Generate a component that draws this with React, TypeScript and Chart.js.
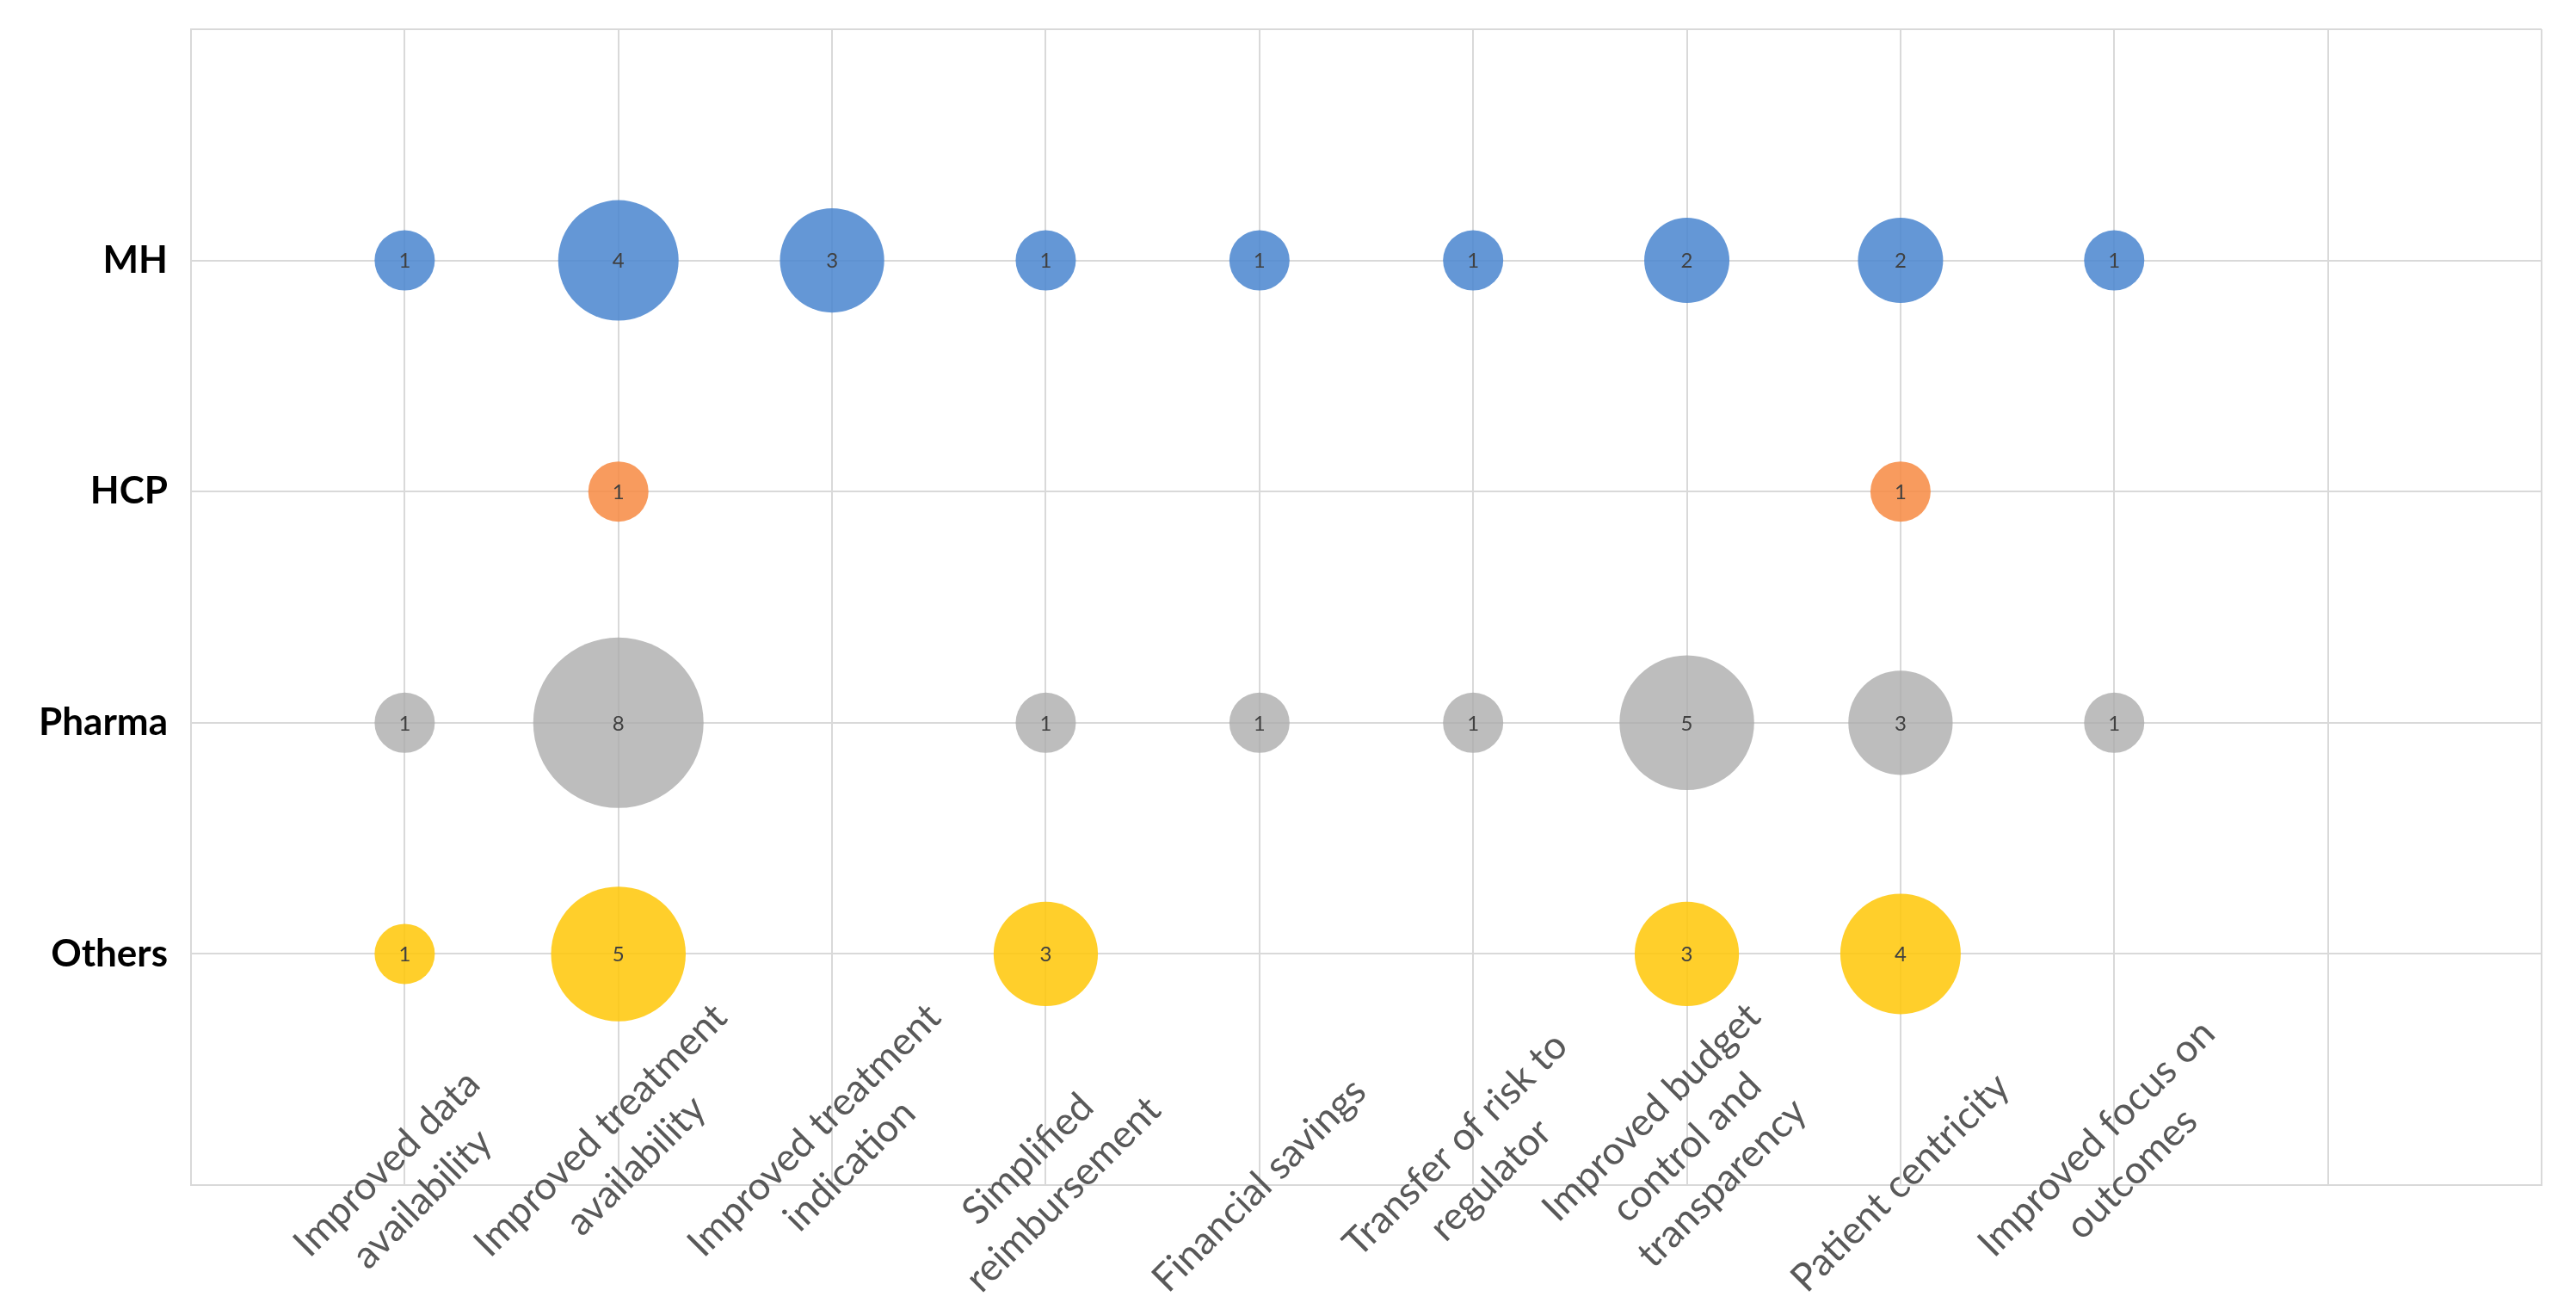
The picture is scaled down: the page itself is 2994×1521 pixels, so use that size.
import React, { useEffect, useRef } from "react";
import { Chart, registerables } from "chart.js";

Chart.register(...registerables);

// ---- data ----
const categories: string[][] = [
  ["Improved data", "availability"],
  ["Improved treatment", "availability"],
  ["Improved treatment", "indication"],
  ["Simplified", "reimbursement"],
  ["Financial savings"],
  ["Transfer of risk to", "regulator"],
  ["Improved budget", "control and", "transparency"],
  ["Patient centricity"],
  ["Improved focus on", "outcomes"],
];
const groupLabels = ["", "Others", "Pharma", "HCP", "MH", ""]; // y tick labels 0..5
const mhCounts = [1, 4, 3, 1, 1, 1, 2, 2, 1];
const hcpCounts = [null, 1, null, null, null, null, null, 1, null];
const pharmaCounts = [1, 8, null, 1, 1, 1, 5, 3, 1];
const othersCounts = [1, 5, null, 3, null, null, 3, 4, null];

const series = [
  { name: "MH", y: 4, counts: mhCounts, color: "rgba(74,134,207,0.86)" },
  { name: "HCP", y: 3, counts: hcpCounts, color: "rgba(247,138,68,0.86)" },
  { name: "Pharma", y: 2, counts: pharmaCounts, color: "rgba(170,170,170,0.78)" },
  { name: "Others", y: 1, counts: othersCounts, color: "rgba(255,199,8,0.86)" },
];

const BUBBLE_SCALE = 35;

function toPoints(counts: (number | null)[], y: number) {
  const pts: { x: number; y: number; r: number; v: number }[] = [];
  counts.forEach((c, i) => {
    if (c != null) pts.push({ x: i + 1, y, r: BUBBLE_SCALE * Math.sqrt(c), v: c });
  });
  return pts;
}

const bubbleLabelPlugin = {
  id: "bubbleLabels",
  afterDatasetsDraw(chart: any) {
    const ctx = chart.ctx;
    ctx.save();
    ctx.font = "24px Lato";
    ctx.fillStyle = "#404040";
    ctx.textAlign = "center";
    ctx.textBaseline = "middle";
    chart.data.datasets.forEach((ds: any, di: number) => {
      const meta = chart.getDatasetMeta(di);
      meta.data.forEach((el: any, j: number) => {
        ctx.fillText(String(ds.data[j].v), el.x, el.y + 1);
      });
    });
    ctx.restore();
  },
};

// Rotated (-45°) category labels: each label's bounding box is centred on its tick
// and bottom-aligned a fixed distance below the axis line.
const xLabelPlugin = {
  id: "xCategoryLabels",
  afterDraw(chart: any) {
    const ctx = chart.ctx;
    const xs = chart.scales.x;
    const yBottom = chart.chartArea.bottom + 137;
    const lh = 58;
    ctx.save();
    ctx.font = "45px Lato";
    ctx.fillStyle = "#595959";
    ctx.textAlign = "center";
    ctx.textBaseline = "middle";
    categories.forEach((lines, i) => {
      const cx = xs.getPixelForValue(i + 1);
      const n = lines.length;
      const w = Math.max(...lines.map((l) => ctx.measureText(l).width));
      const h = n * lh;
      const half = (w + h) / (2 * Math.SQRT2);
      const cy = yBottom - half;
      ctx.save();
      ctx.translate(cx, cy);
      ctx.rotate(-Math.PI / 4);
      lines.forEach((line, k) => {
        ctx.fillText(line, 0, (k - (n - 1) / 2) * lh);
      });
      ctx.restore();
    });
    ctx.restore();
  },
};

export default function App() {
  const ref = useRef<HTMLCanvasElement | null>(null);

  useEffect(() => {
    if (!ref.current) return;
    Chart.defaults.font.family = "Lato";
    const chart = new Chart(ref.current, {
      type: "bubble",
      data: {
        datasets: series.map((s) => ({
          label: s.name,
          data: toPoints(s.counts, s.y),
          backgroundColor: s.color,
          borderWidth: 0,
          hoverBorderWidth: 0,
        })),
      },
      options: {
        animation: false,
        responsive: true,
        maintainAspectRatio: false,
        layout: { autoPadding: false, padding: { top: 34, right: 40, bottom: 0, left: 0 } },
        plugins: {
          legend: { display: false },
          tooltip: { enabled: false },
        },
        scales: {
          x: {
            type: "linear",
            min: 0,
            max: 11,
            ticks: { stepSize: 1, display: false },
            grid: { color: "#d9d9d9", lineWidth: 2, drawTicks: false },
            border: { color: "#d9d9d9", width: 2 },
            afterFit(scale: any) {
              scale.height = 144;
              scale.paddingLeft = 0;
              scale.paddingRight = 0;
            },
          },
          y: {
            type: "linear",
            min: 0,
            max: 5,
            ticks: {
              stepSize: 1,
              padding: 27,
              color: "#000000",
              font: { size: 44, weight: "bold", family: "Lato" },
              callback: (v: any) => groupLabels[Number(v)] ?? "",
            },
            grid: { color: "#d9d9d9", lineWidth: 2, drawTicks: false },
            border: { color: "#d9d9d9", width: 2 },
            afterFit(scale: any) {
              scale.width = 222;
              scale.paddingTop = 0;
              scale.paddingBottom = 0;
            },
          },
        },
      },
      plugins: [bubbleLabelPlugin, xLabelPlugin],
    } as any);
    return () => chart.destroy();
  }, []);

  return (
    <div
      style={{
        position: "fixed",
        left: 0,
        top: 0,
        width: "2994px",
        height: "1521px",
        background: "#ffffff",
      }}
    >
      <canvas ref={ref} />
    </div>
  );
}
